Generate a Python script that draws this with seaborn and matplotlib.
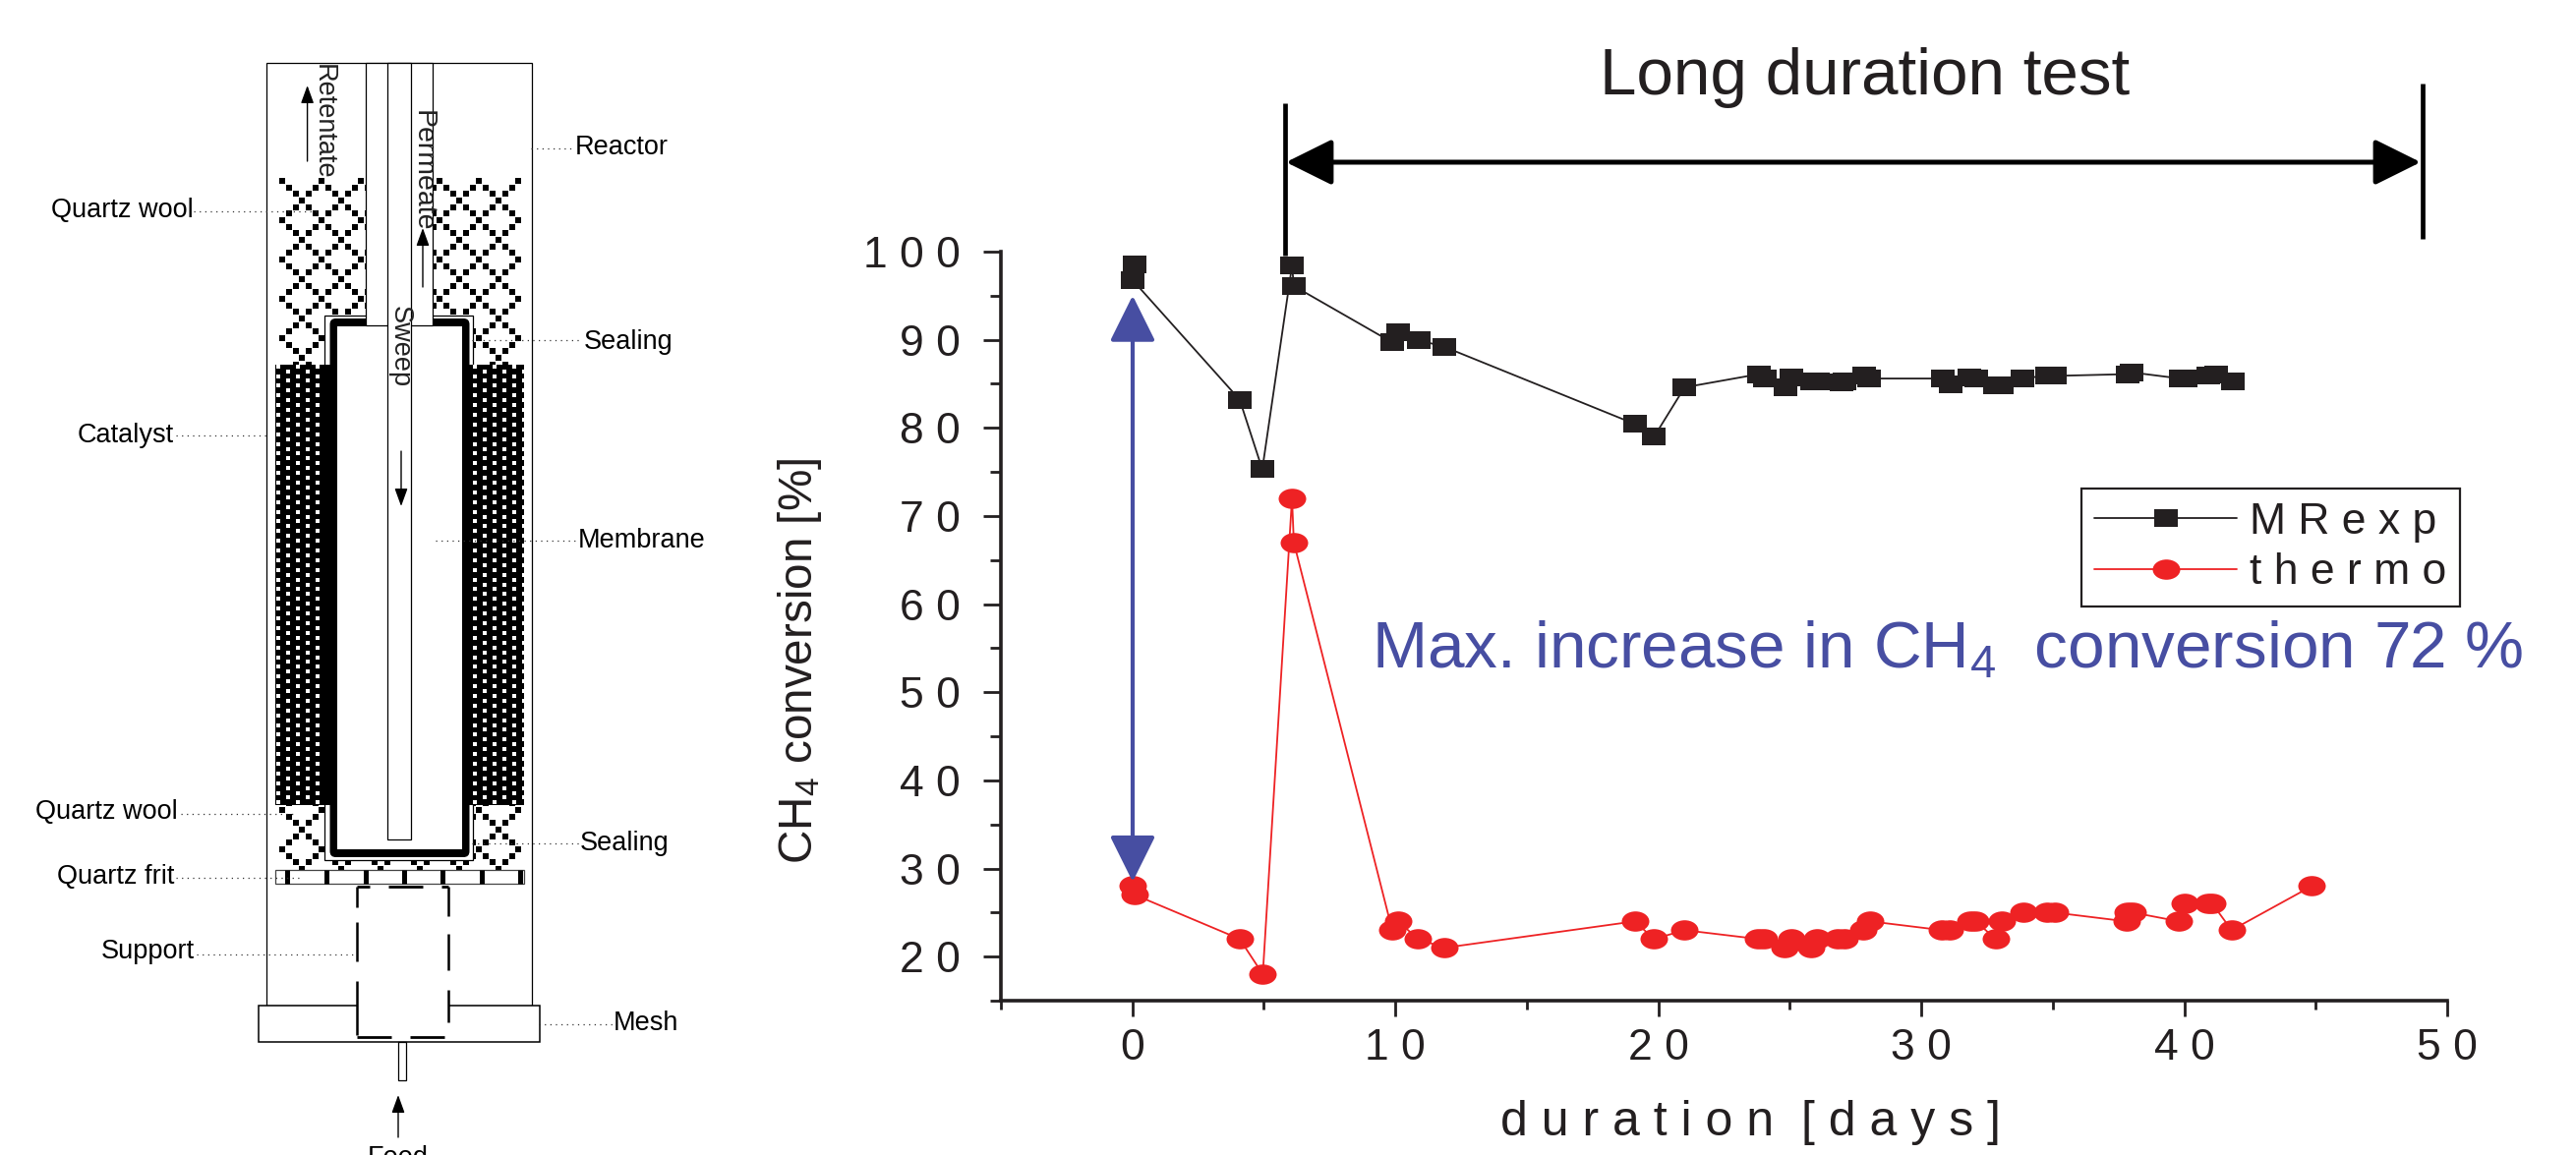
import numpy as np
import pandas as pd
import matplotlib
matplotlib.use("Agg")
import matplotlib.pyplot as plt
from matplotlib.path import Path
from matplotlib.patches import Rectangle, FancyBboxPatch
from matplotlib.ticker import MultipleLocator, FixedLocator, FixedFormatter
import seaborn as sns

# ---------- data ----------
mr_days = [0.1, 0.0, 4.08, 4.94, 6.07, 6.14, 9.88, 10.1, 10.9, 11.86, 19.1, 19.84, 21.0,
           23.82, 24.07, 24.82, 25.07, 25.83, 26.08, 26.97, 27.07, 27.83, 28.02,
           30.83, 31.1, 31.84, 32.08, 32.79, 33.08, 33.84, 34.8, 35.08, 37.84, 38.0,
           39.85, 40.04, 40.93, 41.2, 41.84]
mr_conv = [98.5, 96.8, 83.2, 75.3, 98.4, 96.1, 89.7, 90.9, 89.95, 89.2, 80.45, 79.0, 84.6,
           86.1, 85.6, 84.6, 85.75, 85.3, 85.3, 85.2, 85.3, 86.0, 85.6,
           85.6, 84.9, 85.7, 85.6, 84.8, 84.8, 85.6, 85.95, 85.9, 86.1, 86.3,
           85.6, 85.65, 85.9, 86.1, 85.3]
th_days = [0.02, 0.1, 4.08, 4.96, 6.07, 6.14, 9.88, 10.1, 10.87, 11.86, 19.1, 19.84, 21.0,
           23.8, 24.0, 24.8, 25.06, 25.8, 26.05, 26.8, 27.07, 27.8, 28.06,
           30.8, 31.08, 31.85, 32.07, 32.83, 33.05, 33.9, 34.8, 35.07, 37.8, 37.85, 38.05,
           39.8, 40.0, 40.9, 41.07, 41.8, 44.85]
th_conv = [28, 27, 22, 18, 72, 67, 23, 24, 22, 21, 24, 22, 23,
           22, 22, 21, 22, 21, 22, 22, 22, 23, 24,
           23, 23, 24, 24, 22, 24, 25, 25, 25, 24, 25, 25,
           24, 26, 26, 26, 23, 28]
series_labels = ["M R e x p", "t h e r m o"]
x_ticks = [0, 10, 20, 30, 40, 50]
x_tick_labels = ["0", "1 0", "2 0", "3 0", "4 0", "5 0"]
y_ticks = [20, 30, 40, 50, 60, 70, 80, 90, 100]
y_tick_labels = ["2 0", "3 0", "4 0", "5 0", "6 0", "7 0", "8 0", "9 0", "1 0 0"]

BLACK, RED, BLUE, INK = "#231F20", "#EE2224", "#474EA2", "#231F20"
W, H = 2620, 1175
PT = 0.72

sns.set_style("ticks")
plt.rcParams["font.family"] = ["Liberation Sans", "DejaVu Sans"]
plt.rcParams["mathtext.fontset"] = "custom"
plt.rcParams["mathtext.rm"] = "Liberation Sans"
plt.rcParams["mathtext.default"] = "regular"

fig = plt.figure(figsize=(W / 100, H / 100), dpi=100, facecolor="white")

# full-figure pixel canvas for the schematic and the annotations
pix = fig.add_axes([0, 0, 1, 1], zorder=1)
pix.set_xlim(0, W)
pix.set_ylim(H, 0)
pix.axis("off")

def rect(x0, y0, x1, y1, fc="white", ec="black", lw=1.0, z=2):
    pix.add_patch(Rectangle((x0, y0), x1 - x0, y1 - y0, facecolor=fc, edgecolor=ec, linewidth=lw, zorder=z))

def seg(xs, ys, lw=1.0, c="black", z=3, **kw):
    pix.plot(xs, ys, color=c, lw=lw, zorder=z, solid_capstyle="butt", **kw)

def flow(x0, y0, x1, y1):
    pix.annotate("", xy=(x1, y1), xytext=(x0, y0), zorder=8,
                 arrowprops=dict(arrowstyle="-|>,head_length=11,head_width=4", mutation_scale=1,
                                 color="black", lw=1.0, shrinkA=0, shrinkB=0))

# reactor shell and flange
rect(271, 64, 540.5, 1023, lw=0.9, z=1)
rect(263, 1023, 549, 1060, lw=1.1, z=2)
rect(363, 1020, 455.5, 1058, ec="none", lw=0, z=2.1)

# quartz wool: diagonal lattice of small squares
step = 40 / 6
mm = np.arange(-10, 60)
nn = np.arange(-30, 90)
M, N = np.meshgrid(mm, nn)
mask = ((M - N) % 6 == 0) | ((M + N) % 6 == 0)
wx = 307.3 + M[mask] * step
wy = 324 + N[mask] * step
keep = (wx >= 282) & (wx <= 531) & (wy >= 179) & (wy <= 884)
pix.scatter(wx[keep], wy[keep], s=(6.4 * PT) ** 2, marker="s", c="black", linewidths=0, zorder=2)

# sealing outline
rect(330, 321, 481, 875, lw=0.9, z=3)

# catalyst: black bed with a staggered lattice of white squares
for x0, x1 in ((280, 336), (477, 533)):
    rect(x0, 371, x1, 819, fc="black", ec="none", lw=0, z=4)
II, JJ = np.meshgrid(np.arange(0, 26), np.arange(0, 91))
stag = (II + JJ) % 2 == 0
GX = 282.7 + II[stag] * 10.0
GY = 372.7 + JJ[stag] * 4.93
sel = (GX < 332) | (GX > 482)
pix.scatter(GX[sel], GY[sel], s=(4.5 * PT) ** 2, marker="s", c="white", linewidths=0, zorder=4.5)

# membrane
pix.add_patch(FancyBboxPatch((335.5, 324), 142, 548, boxstyle="round,pad=0,rounding_size=6",
                             facecolor="black", edgecolor="none", zorder=5))
rect(343, 332, 470, 864, ec="none", lw=0, z=5.1)

# tubes
rect(372, 64, 440, 331, lw=0.9, z=6)
rect(393.6, 64, 418.3, 854, lw=0.9, z=6.1)

# frit
rect(280, 885, 533, 899, lw=0.9, ec="#444444", z=3)
for fx in (292, 332, 372, 411, 450, 490, 529):
    seg([fx, fx], [885, 899], lw=3.6, z=3.5)

# support (broken outline)
for y0, y1 in ((902, 923), (938, 978), (998, 1053)):
    seg([363, 363], [y0, y1], lw=1.8)
for y0, y1 in ((902, 932), (950, 987), (1007, 1040)):
    seg([455.5, 455.5], [y0, y1], lw=1.8)
for x0, x1 in ((363, 376), (395, 430), (449, 456)):
    seg([x0, x1], [902, 902], lw=2.0)
for x0, x1 in ((363, 398), (417, 452)):
    seg([x0, x1], [1055, 1055], lw=2.0)

# feed pipe
rect(405, 1060, 413, 1099, lw=0.9, z=2)

flow(312.6, 164, 312.6, 87)
flow(430, 292, 430, 232)
flow(408, 459, 408, 515)
flow(405, 1157, 405, 1114)

# labels and their dotted leaders
labels = [
    ("Reactor", 585, 150, 540, 584, 151),
    ("Quartz wool", 52, 214, 197, 322, 215),
    ("Sealing", 594, 348, 480, 592, 346),
    ("Catalyst", 78.5, 443, 179, 274, 443),
    ("Membrane", 588, 550, 443, 586, 550),
    ("Quartz wool", 36, 826, 184, 300, 828),
    ("Sealing", 590, 858, 480, 589, 858),
    ("Quartz frit", 58, 892, 179, 308, 893),
    ("Support", 103, 968, 200, 361, 971),
    ("Mesh", 624, 1041, 548, 623, 1042),
]
for txt, tx, ty, lx0, lx1, ly in labels:
    pix.text(tx, ty, txt, fontsize=19.5, color="black", ha="left", va="center", zorder=9)
    pix.plot([lx0, lx1], [ly, ly], color="#333333", lw=0.9, ls=(0, (1, 3.5)), zorder=7)
pix.text(405, 1165, "Feed", fontsize=19.5, color="black", ha="center", va="top", zorder=9, clip_on=False)
for txt, tx, ty, fs in (("Retentate", 329, 124, 19.5), ("Permeate", 430, 174, 20.5), ("Sweep", 407, 353, 19.5)):
    pix.text(tx, ty, txt, fontsize=fs, color="#222222", rotation=270, ha="center", va="center", zorder=9)

# long-duration marker
seg([1306.7, 1306.7], [105, 260], lw=4.7 * PT, z=3, )
seg([2464, 2464], [85, 243], lw=4.7 * PT, z=3)
pix.annotate("", xy=(2462, 165), xytext=(1308, 165), zorder=3,
             arrowprops=dict(arrowstyle="<|-|>,head_length=29,head_width=14.4", mutation_scale=1,
                             color="black", lw=3.6, shrinkA=0, shrinkB=0))
pix.text(1897, 96, "Long duration test", fontsize=48.5, color=INK, ha="center", va="baseline")

# ---------- chart ----------
ax = fig.add_axes([1018 / W, 1 - 1018 / H, (2489 - 1018) / W, (1018 - 256) / H], zorder=2)
ax.patch.set_alpha(0)

ellipse = Path(Path.unit_circle().vertices * np.array([1.0, 0.735]), Path.unit_circle().codes)
square = Path([(-1, -0.74), (1, -0.74), (1, 0.74), (-1, 0.74), (-1, -0.74)], closed=True)

df_mr = pd.DataFrame({"days": mr_days, "conv": mr_conv})
df_th = pd.DataFrame({"days": th_days, "conv": th_conv})
sns.lineplot(data=df_mr, x="days", y="conv", ax=ax, sort=False, estimator=None, color=BLACK,
             lw=1.3, marker=square, markersize=23.5 * PT, markeredgewidth=0, label=series_labels[0])
sns.lineplot(data=df_th, x="days", y="conv", ax=ax, sort=False, estimator=None, color=RED,
             lw=1.3, marker=ellipse, markersize=28 * PT, markeredgewidth=0, label=series_labels[1])

ax.set_xlim(-5, 50)
ax.set_ylim(15, 100)
for side in ("top", "right"):
    ax.spines[side].set_visible(False)
for side in ("left", "bottom"):
    ax.spines[side].set_linewidth(2.6)
    ax.spines[side].set_color(INK)

ax.xaxis.set_major_locator(FixedLocator(x_ticks))
ax.xaxis.set_major_formatter(FixedFormatter(x_tick_labels))
ax.yaxis.set_major_locator(FixedLocator(y_ticks))
ax.yaxis.set_major_formatter(FixedFormatter(y_tick_labels))
ax.xaxis.set_minor_locator(MultipleLocator(5))
ax.yaxis.set_minor_locator(MultipleLocator(5))
ax.tick_params(axis="x", which="major", length=16 * PT, width=2.0, color=INK, labelsize=32, labelcolor=INK, pad=9)
ax.tick_params(axis="y", which="major", length=18 * PT, width=2.0, color=INK, labelsize=32, labelcolor=INK, pad=17)
ax.tick_params(axis="x", which="minor", length=9 * PT, width=2.0, color=INK)
ax.tick_params(axis="y", which="minor", length=11 * PT, width=2.0, color=INK)

ax.set_xlabel("d u r a t i o n  [ d a y s ]", fontsize=36, color=INK, va="baseline")
ax.xaxis.set_label_coords((1781 - 1018) / 1471, (1018 - 1155) / 762)
ax.set_ylabel("CH$_4$ conversion [%]", fontsize=34.3, color=INK, va="center")
ax.yaxis.set_label_coords((813 - 1018) / 1471, (1018 - 672) / 762)

leg = ax.legend(loc="upper left", bbox_to_anchor=(2117 / W, 1 - 497.5 / H), bbox_transform=fig.transFigure,
                borderaxespad=0, frameon=True, fancybox=False, framealpha=1, edgecolor=INK,
                fontsize=32, handlelength=3.25, handletextpad=0.3, borderpad=0.3, labelspacing=0.24,
                numpoints=1)
leg.get_frame().set_linewidth(1.6)
for t in leg.get_texts():
    t.set_color(INK)

# conversion-gain arrow and note
ax.annotate("", xy=(1152, 300.7), xytext=(1152, 897), xycoords=pix.transData, textcoords=pix.transData,
            zorder=10, annotation_clip=False,
            arrowprops=dict(arrowstyle="<|-|>,head_length=29,head_width=14.4", mutation_scale=1,
                            color=BLUE, lw=3.0, shrinkA=0, shrinkB=0))
ax.text(1395, 680, "Max. increase in CH$_4$  conversion 72 %", transform=pix.transData,
        fontsize=48.6, color=BLUE, ha="left", va="baseline", zorder=10)

fig.savefig("out.png", dpi=100, facecolor="white")
